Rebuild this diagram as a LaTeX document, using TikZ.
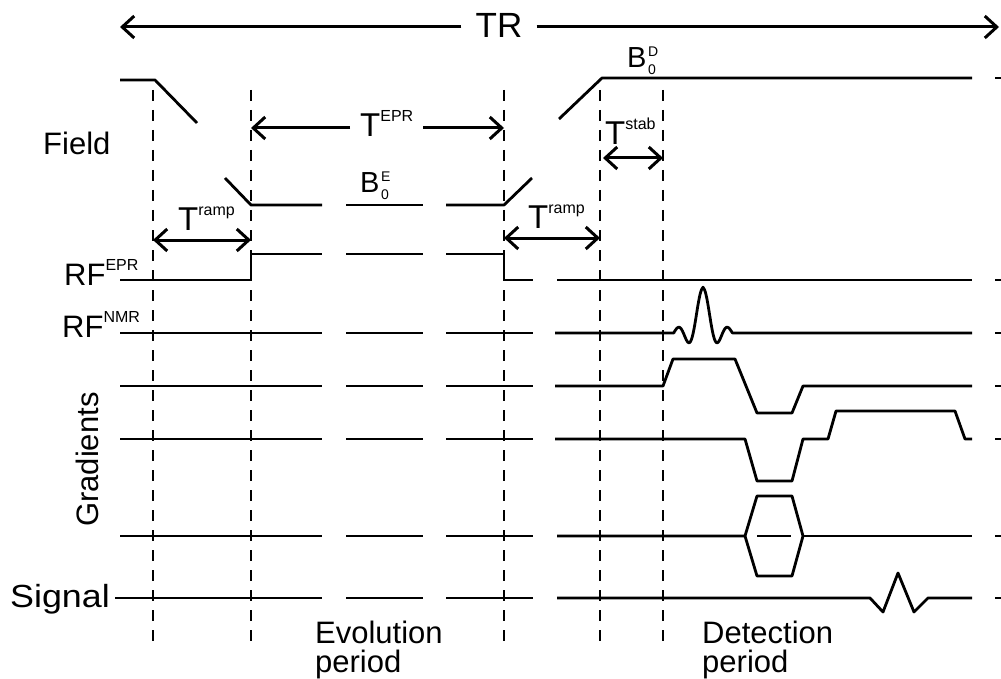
\documentclass[tikz,border=0pt]{standalone}
\usepackage{fontspec}
\setmainfont{Liberation Sans}
\usetikzlibrary{arrows.meta}

% font sizes used for the labels
\newcommand\lblsize{\fontsize{31}{29}\selectfont}
\newcommand\bigT{\fontsize{33}{36}\selectfont}
% raised superscript text, e.g. T^{EPR}
\newcommand\hi[1]{\raisebox{15pt}{\fontsize{16}{16}\selectfont #1}}
% stacked super- and subscript after B
\newcommand\supsub[2]{\kern1.5pt\rlap{\raisebox{11pt}{\fontsize{14}{14}\selectfont #1}}\raisebox{-7pt}{\fontsize{14}{14}\selectfont #2}}

\tikzset{
  wave/.style={line width=2.8pt, line join=round},
  guide/.style={line width=1.8pt, dash pattern=on 11pt off 9pt},
  dim/.style={line width=3pt},
  barb/.style={-{Straight Barb[length=12pt,width=22pt]}},
  barbs/.style={{Straight Barb[length=12pt,width=22pt]}-{Straight Barb[length=12pt,width=22pt]}},
  lbl/.style={inner sep=0pt, anchor=base west, font=\lblsize},
}

\begin{document}
\begin{tikzpicture}[x=1pt, y=-1pt]
\fill[white] (0,0) rectangle (1001,679);
\useasboundingbox (0,0) rectangle (1001,679);

% timing guides
\foreach \gx/\gn in {153/ga, 251/gb, 504/gc, 600/gd, 663/ge} {
  \coordinate (\gn top) at (\gx,90);
  \coordinate (\gn bot) at (\gx,648);
  \draw[guide] (\gn top) -- (\gn bot);
}

% repetition time
\coordinate (trL) at (120,27);
\coordinate (trR) at (999,27);
\node[inner sep=0pt, inner xsep=14pt, anchor=base, font=\fontsize{35}{36}\selectfont] (tr) at (499,38) {TR};
\draw[dim, barb] (tr.west |- trL) -- (trL);
\draw[dim, barb] (tr.east |- trR) -- (trR);

% row labels
\node[lbl] (field) at (43,155) {Field};
\node[lbl] (rfepr) at (64,285) {RF\hi{EPR}};
\node[lbl] (rfnmr) at (62,337) {RF\hi{NMR}};
\node[lbl, rotate=90] (grad) at (98,527) {Gradients};
\node[lbl, font=\fontsize{32}{29}\selectfont] (signal) at (10,607) {\scalebox{1.12}[1]{Signal}};

% period labels (base anchor sits on the last line)
\node[lbl, align=left] (evo) at (315,672) {Evolution\\period};
\node[lbl, align=left] (det) at (702,672) {Detection\\period};

% field levels
\node[lbl, font=\fontsize{29}{30}\selectfont] (bE) at (360,193) {B\supsub{E}{0}};
\node[lbl, font=\fontsize{29}{30}\selectfont] (bD) at (627,68) {B\supsub{D}{0}};

% evolution time
\coordinate (eprL) at (251,128);
\coordinate (eprR) at (504,128);
\node[lbl, font=\bigT, inner xsep=10pt] (tepr) at (350,137) {T\hi{EPR}};
\draw[dim, barb] (tepr.west |- eprL) -- (eprL);
\draw[dim, barb] (tepr.east |- eprR) -- (eprR);

% ramp and stabilisation times
\coordinate (rampAL) at (153,240);
\coordinate (rampAR) at (251,240);
\node[lbl, font=\bigT] (rampA) at (178,230) {T\hi{ramp}};
\draw[dim, barbs] (rampAL) -- (rampAR);

\coordinate (rampBL) at (504,238);
\coordinate (rampBR) at (600,238);
\node[lbl, font=\bigT] (rampB) at (528,229) {T\hi{ramp}};
\draw[dim, barbs] (rampBL) -- (rampBR);

\coordinate (stabL) at (603,158);
\coordinate (stabR) at (663,158);
\node[lbl, font=\bigT] (stab) at (605,145) {T\hi{stab}};
\draw[dim, barbs] (stabL) -- (stabR);

% field waveform
\draw[wave] (120,80) -- (155,80) -- (197,123);
\draw[wave] (225,178) -- (251,205) -- (322,205);
\draw[wave] (346,205) -- (423,205);
\draw[wave] (446,205) -- (504,205) -- (532,178);
\draw[wave] (559,119) -- (602,78) -- (972,78);
\draw[wave] (995,78) -- (1003,78);

% EPR irradiation
\draw[wave] (120,280) -- (251,280) -- (251,254) -- (322,254);
\draw[wave] (346,254) -- (423,254);
\draw[wave] (446,254) -- (504,254) -- (504,280) -- (533,280);
\draw[wave] (557,280) -- (972,280);
\draw[wave] (995,280) -- (1003,280);

% common baseline pieces of the lower rows
\foreach \ry/\rs in {333/120, 386/120, 439/120, 536/120, 598/115} {
  \draw[wave] (\rs,\ry) -- (322,\ry);
  \draw[wave] (346,\ry) -- (423,\ry);
  \draw[wave] (446,\ry) -- (533,\ry);
  \draw[wave] (995,\ry) -- (1003,\ry);
}

% NMR excitation pulse
\draw[wave] (555,333) -- (674,333)
  -- plot[domain=-29.4:29.4, samples=81, smooth] ({703+\x}, {333-45*sin(0.32*\x r)/(0.32*\x)})
  -- (972,333);

% gradient 1
\draw[wave] (555,386) -- (663,386) -- (673,359) -- (735,359) -- (757,413)
  -- (792,413) -- (803,386) -- (972,386);

% gradient 2
\draw[wave] (555,439) -- (745,439) -- (757,481) -- (792,481) -- (803,439)
  -- (828,439) -- (836,411) -- (955,411) -- (965,439) -- (972,439);

% gradient 3 (phase encoding table)
\draw[wave] (557,536) -- (745,536) -- (757,496) -- (792,496) -- (803,536)
  -- (792,576) -- (757,576) -- (745,536);
\draw[wave] (803,536) -- (972,536);
\draw[line width=2pt] (757,536) -- (791,536);

% acquired signal
\draw[wave] (557,598) -- (870,598) -- (883,612) -- (898,573) -- (914,612)
  -- (928,598) -- (972,598);
\end{tikzpicture}
\end{document}
